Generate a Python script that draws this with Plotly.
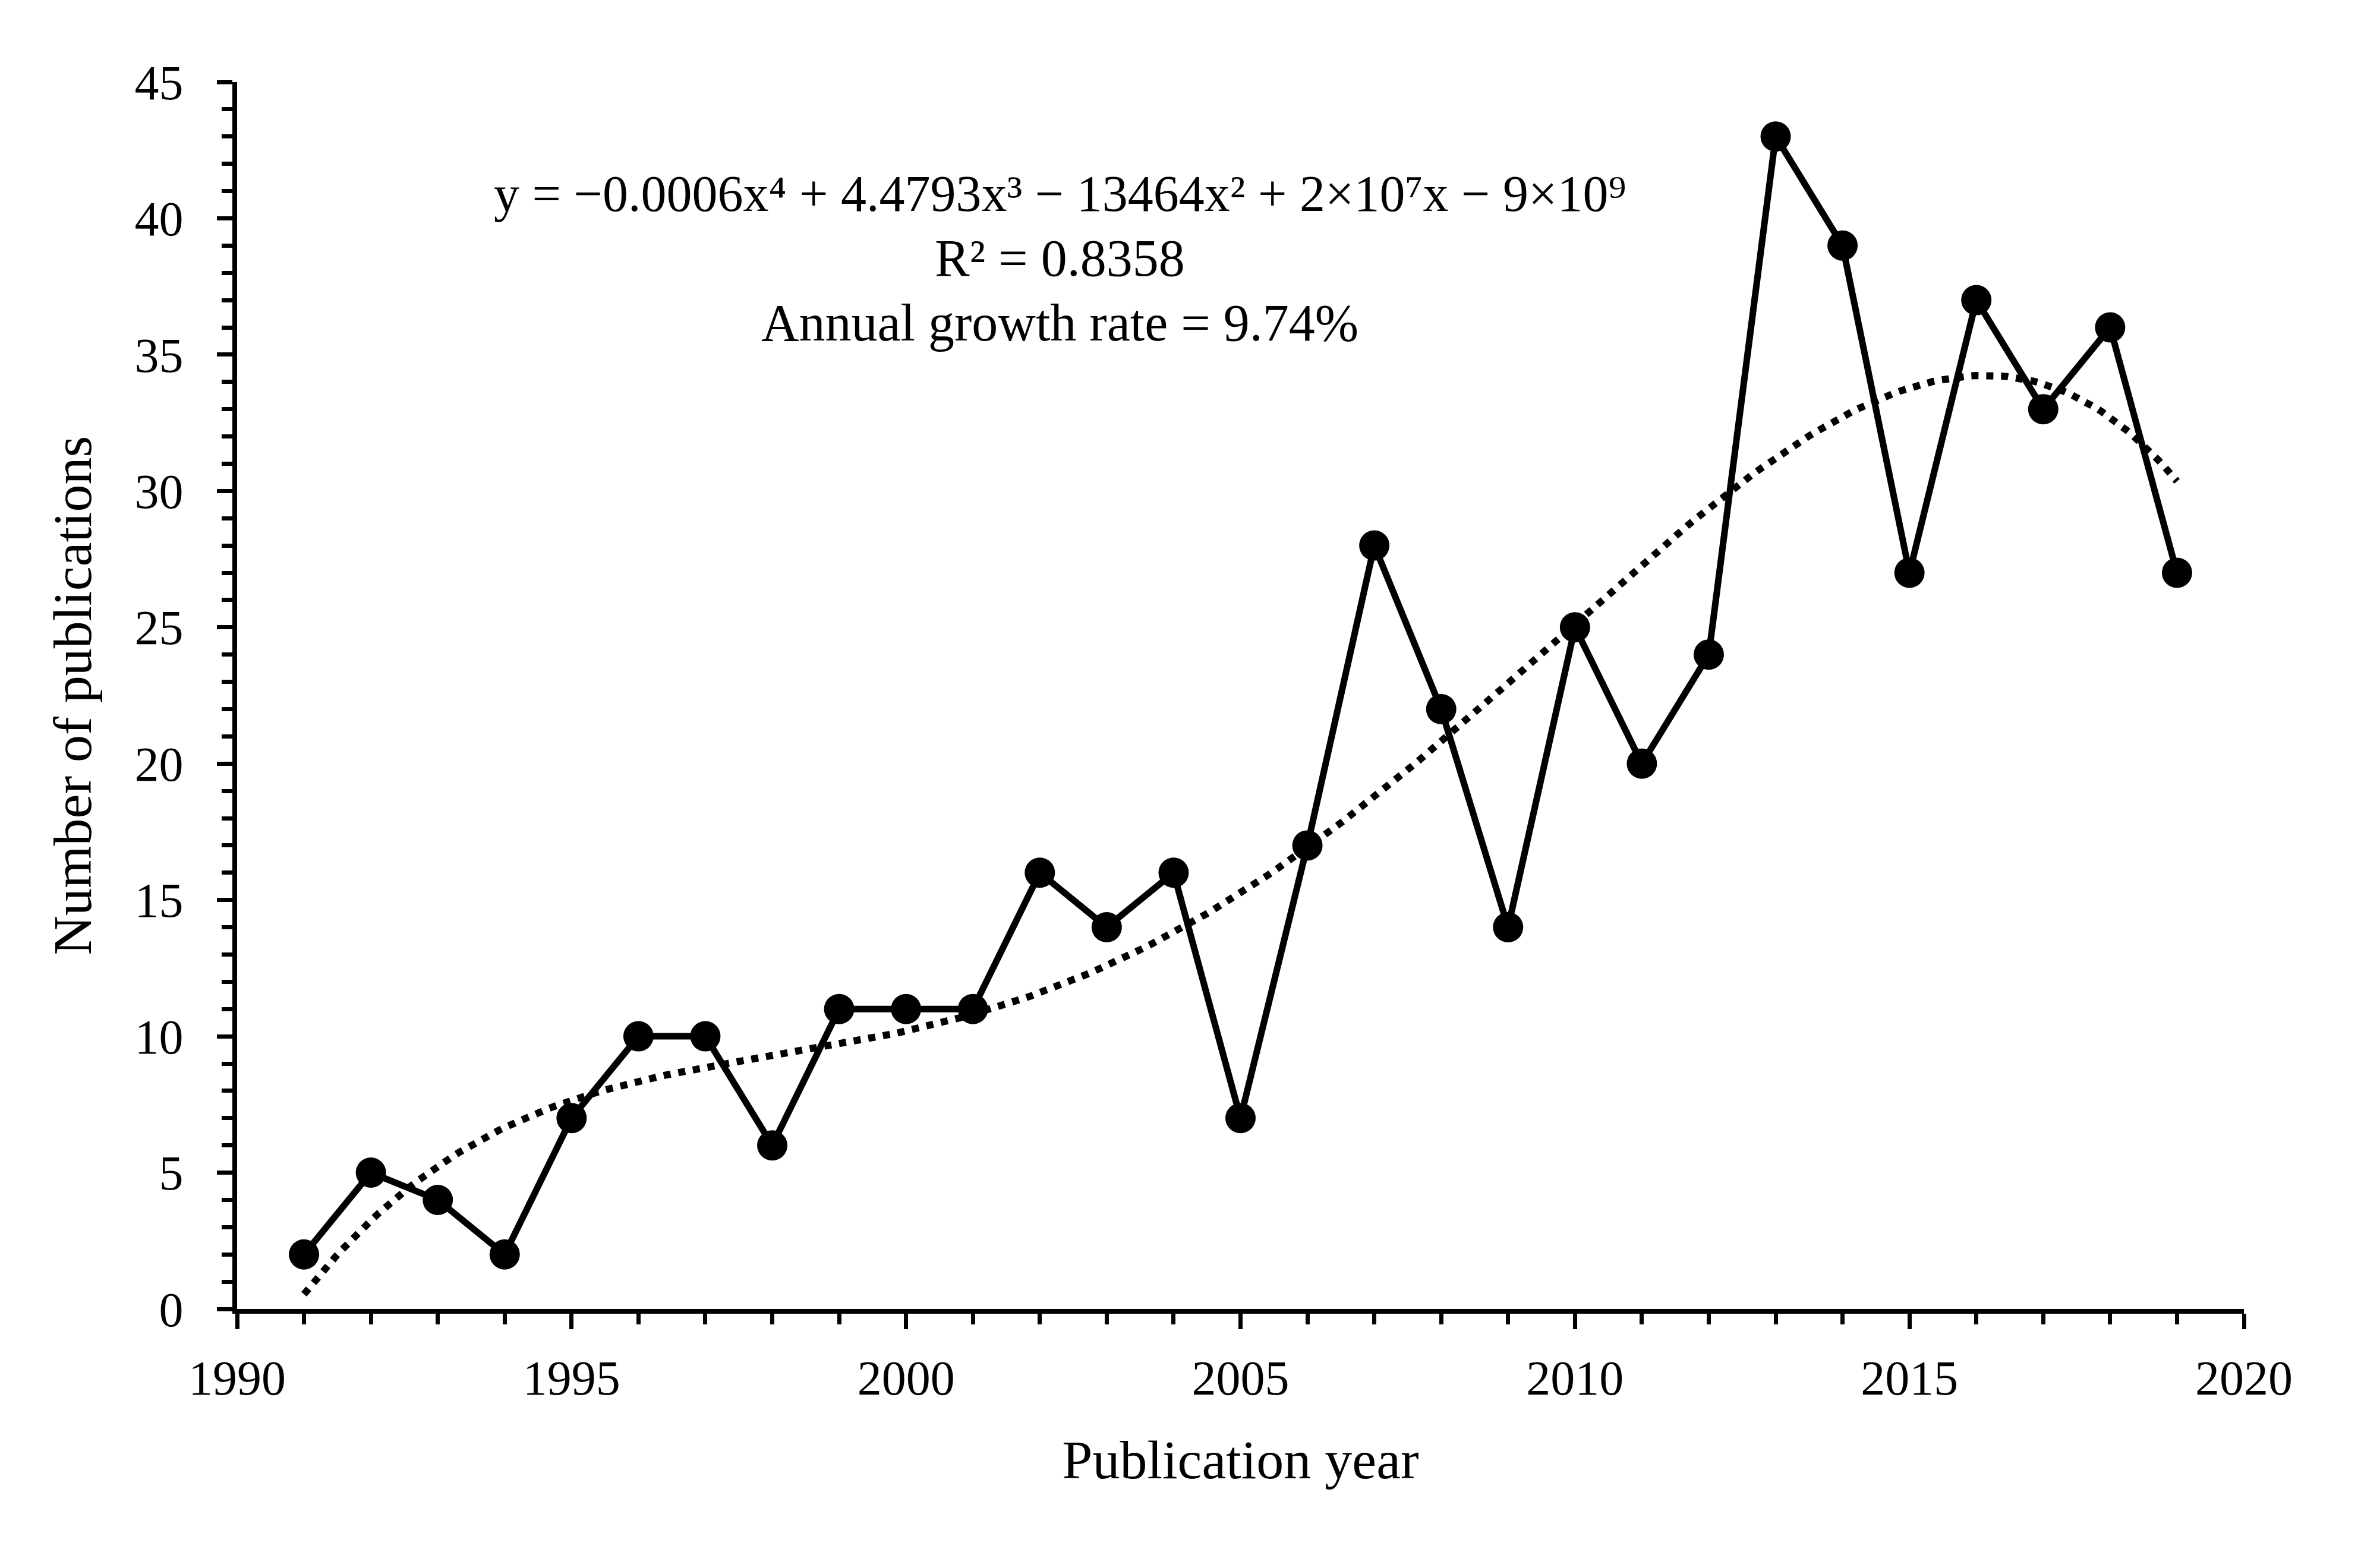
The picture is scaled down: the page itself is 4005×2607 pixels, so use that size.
import numpy as np
import plotly.graph_objects as go

years = [1991, 1992, 1993, 1994, 1995, 1996, 1997, 1998, 1999, 2000,
         2001, 2002, 2003, 2004, 2005, 2006, 2007, 2008, 2009, 2010,
         2011, 2012, 2013, 2014, 2015, 2016, 2017, 2018, 2019]
publications = [2, 5, 4, 2, 7, 10, 10, 6, 11, 11,
                11, 16, 14, 16, 7, 17, 28, 22, 14, 25,
                20, 24, 43, 39, 27, 37, 33, 36, 27]

x_ticks = [1990, 1995, 2000, 2005, 2010, 2015, 2020]
y_ticks = [0, 5, 10, 15, 20, 25, 30, 35, 40, 45]

eq_lines = [
    "y = \u22120.0006x\u2074 + 4.4793x\u00b3 \u2212 13464x\u00b2 + 2\u00d710\u2077x \u2212 9\u00d710\u2079",
    "R\u00b2 = 0.8358",
    "Annual growth rate = 9.74%",
]
eq_sizes = [86, 88, 88]

# 4th-order polynomial trendline fitted to the data (as in the source chart)
xa = np.array(years, dtype=float)
ya = np.array(publications, dtype=float)
xc = xa - xa.mean()
coef = np.polyfit(xc, ya, 4)
xt = np.linspace(xa.min(), xa.max(), 300)
yt = np.polyval(coef, xt - xa.mean())

FONT = "Liberation Serif"

fig = go.Figure()
fig.add_trace(go.Scatter(x=xt, y=yt, mode="lines",
                         line=dict(color="black", width=12, dash="12px,13px"),
                         hoverinfo="skip", showlegend=False))
fig.add_trace(go.Scatter(x=years, y=publications, mode="lines+markers",
                         line=dict(color="black", width=11),
                         marker=dict(color="black", size=51),
                         showlegend=False))

for i, t in enumerate(eq_lines):
    fig.add_annotation(x=2002.3, y=40.9 - i * 2.365, xref="x", yref="y",
                       text=t, showarrow=False, xanchor="center", yanchor="middle",
                       font=dict(family=FONT, size=eq_sizes[i], color="black"))

fig.update_layout(
    width=4005, height=2607,
    paper_bgcolor="white", plot_bgcolor="white",
    margin=dict(l=391, r=237, t=130, b=412),
    font=dict(family=FONT, size=82, color="black"),
)
fig.update_xaxes(
    range=[1990, 2020], tickvals=x_ticks, showgrid=False, zeroline=False,
    showline=True, linecolor="black", linewidth=8,
    ticks="outside", ticklen=26, tickwidth=7, tickcolor="black",
    minor=dict(dtick=1, ticks="outside", ticklen=18, tickwidth=7, tickcolor="black", showgrid=False),
    tickfont=dict(family=FONT, size=82, color="black"),
    ticklabelstandoff=12,
    title=dict(text="Publication year", font=dict(family=FONT, size=92, color="black"), standoff=62),
)
fig.update_yaxes(
    range=[0, 45], tickvals=y_ticks, showgrid=False, zeroline=False,
    showline=True, linecolor="black", linewidth=8,
    ticks="outside", ticklen=26, tickwidth=7, tickcolor="black",
    minor=dict(dtick=1, ticks="outside", ticklen=18, tickwidth=7, tickcolor="black", showgrid=False),
    tickfont=dict(family=FONT, size=82, color="black"),
    ticklabelstandoff=40,
    title=dict(text="Number of publications", font=dict(family=FONT, size=92, color="black"), standoff=45),
)

fig.write_html("out.html")
